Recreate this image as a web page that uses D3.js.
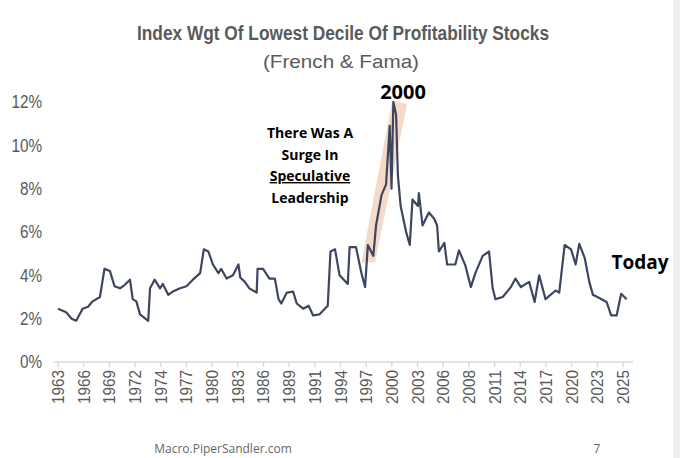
<!DOCTYPE html>
<html><head><meta charset="utf-8">
<script src="https://cdn.jsdelivr.net/npm/d3@7"></script>
<style>body{margin:0;background:#fff}</style>
</head><body><div id="chart"></div>
<script>
// index weight of the lowest profitability decile
const years = [1963.0,1963.9,1964.5,1965.0,1965.7,1966.3,1966.8,1967.6,1968.1,1968.7,1969.2,1969.8,1970.3,1970.9,1971.2,1971.6,1972.0,1972.9,1973.1,1973.6,1974.2,1974.5,1975.1,1975.6,1976.4,1977.1,1977.8,1978.6,1979.0,1979.5,1980.0,1980.6,1980.9,1981.5,1982.2,1982.8,1983.0,1983.5,1984.0,1984.8,1984.9,1985.5,1986.2,1986.8,1987.2,1987.5,1988.1,1988.8,1989.2,1989.9,1990.5,1991.0,1991.7,1992.6,1992.9,1993.4,1993.9,1994.8,1995.0,1995.7,1996.3,1996.7,1997.0,1997.6,1997.9,1998.5,1999.0,1999.4,1999.6,1999.8,2000.1,2000.3,2000.6,2001.2,2001.6,2001.9,2002.5,2002.6,2003.0,2003.7,2004.3,2004.6,2004.8,2005.4,2005.7,2006.6,2007.0,2007.7,2008.3,2008.8,2009.6,2010.3,2010.7,2011.0,2011.8,2012.7,2013.2,2013.8,2014.7,2015.3,2015.8,2016.5,2017.6,2018.0,2018.6,2019.3,2019.8,2020.2,2020.8,2021.3,2021.7,2022.4,2023.2,2023.7,2024.3,2024.8,2025.4];
const weights = [2.46,2.3,2.0,1.9,2.46,2.55,2.8,3.0,4.3,4.2,3.5,3.4,3.55,3.8,2.9,2.8,2.2,1.9,3.4,3.8,3.4,3.6,3.1,3.25,3.4,3.5,3.8,4.1,5.2,5.1,4.5,4.1,4.3,3.85,4.0,4.5,3.9,3.7,3.4,3.2,4.3,4.3,3.85,3.85,2.9,2.7,3.2,3.25,2.7,2.46,2.6,2.15,2.2,2.6,5.1,5.2,4.0,3.6,5.3,5.3,4.1,3.46,5.4,4.9,6.3,7.7,8.2,10.9,8.0,12.0,11.4,8.6,7.2,6.0,5.4,7.5,7.2,7.8,6.3,6.9,6.6,6.3,5.1,5.5,4.5,4.5,5.15,4.46,3.46,4.1,4.9,5.1,3.4,2.9,3.0,3.46,3.85,3.46,3.7,2.77,4.0,2.9,3.3,3.2,5.4,5.2,4.5,5.45,4.8,3.7,3.1,2.95,2.77,2.15,2.15,3.15,2.9];
const yTicks = [0,2,4,6,8,10,12];
const xLabels = ["1963","1966","1969","1972","1974","1977","1980","1983","1986","1989","1991","1994","1997","2000","2003","2006","2008","2011","2014","2017","2020","2023","2025"];
// shaded "surge" band corners [year, weight]
const band = [[1996.3,4.6],[1997.8,4.6],[2001.3,11.9],[1999.7,12.1]];

const width = 680, height = 458;
const svg = d3.select("#chart").append("svg").attr("width", width).attr("height", height)
    .style("font-family", "'Liberation Sans', Arial, sans-serif");

const x = d3.scaleLinear().domain([1963, 2025]).range([58, 623]);
const y = d3.scaleLinear().domain([0, 12]).range([362, 102]);

svg.append("rect").attr("x", 673).attr("y", 0).attr("width", 7).attr("height", height).attr("fill", "#eeeef0");

svg.append("text").attr("x", 343).attr("y", 40).attr("text-anchor", "middle")
    .attr("font-size", 20).attr("font-weight", "bold").attr("fill", "#5a5a5a")
    .attr("textLength", 412).attr("lengthAdjust", "spacingAndGlyphs")
    .text("Index Wgt Of Lowest Decile Of Profitability Stocks");
svg.append("text").attr("x", 341).attr("y", 68).attr("text-anchor", "middle")
    .attr("font-size", 19).attr("fill", "#5a5a5a")
    .attr("textLength", 156).attr("lengthAdjust", "spacingAndGlyphs").text("(French & Fama)");

svg.append("polygon")
    .attr("points", band.map(d => [x(d[0]), y(d[1])].join(",")).join(" "))
    .attr("fill", "#f3d3bd").attr("opacity", 0.85);

// y labels (narrow)
svg.append("g").selectAll("text").data(yTicks).join("text")
    .attr("transform", d => `translate(42,${y(d)}) scale(0.85,1)`).attr("dy", "0.35em").attr("text-anchor", "end")
    .attr("font-size", 18).attr("fill", "#595959").text(d => d + "%");

// x axis
const step = (2025 - 1963) / (xLabels.length - 1);
const xTickVals = xLabels.map((d, i) => 1963 + i * step);
svg.append("line").attr("x1", 54).attr("x2", 633).attr("y1", y(0)).attr("y2", y(0))
    .attr("stroke", "#d9d9d9").attr("stroke-width", 1.5);
svg.append("g").selectAll("line").data(xTickVals).join("line")
    .attr("x1", d => x(d)).attr("x2", d => x(d)).attr("y1", y(0)).attr("y2", y(0) + 5)
    .attr("stroke", "#d9d9d9").attr("stroke-width", 1.5);
svg.append("g").selectAll("text").data(xLabels).join("text")
    .attr("transform", (d, i) => `translate(${x(xTickVals[i]) + 6},${y(0) + 8}) rotate(-90)`)
    .attr("text-anchor", "end").attr("font-size", 17).attr("fill", "#595959")
    .attr("textLength", 34).attr("lengthAdjust", "spacingAndGlyphs").text(d => d);

const line = d3.line().x(d => x(d[0])).y(d => y(d[1]));
svg.append("path").datum(years.map((d, i) => [d, weights[i]]))
    .attr("d", line).attr("fill", "none").attr("stroke", "#3d4660").attr("stroke-width", 2.2)
    .attr("stroke-linejoin", "round");

const ann = svg.append("g").attr("font-family", "'Open Sans', sans-serif").attr("font-weight", "bold").attr("fill", "#000");
["There Was A", "Surge In", "Speculative", "Leadership"].forEach((t, i) => {
  ann.append("text").attr("x", 310).attr("y", 138 + i * 21.5).attr("text-anchor", "middle")
    .attr("font-size", 14).attr("text-decoration", i == 2 ? "underline" : null).text(t);
});
ann.append("text").attr("x", 403).attr("y", 99).attr("text-anchor", "middle").attr("font-size", 20).text("2000");
ann.append("text").attr("x", 640).attr("y", 269).attr("text-anchor", "middle").attr("font-size", 19).text("Today");

svg.append("text").attr("x", 223).attr("y", 453).attr("text-anchor", "middle")
    .attr("font-family", "'Open Sans', sans-serif").attr("font-size", 12).attr("fill", "#666").text("Macro.PiperSandler.com");
svg.append("text").attr("x", 597).attr("y", 453).attr("text-anchor", "middle")
    .attr("font-family", "'Open Sans', sans-serif").attr("font-size", 12).attr("fill", "#666").text("7");
</script></body></html>
